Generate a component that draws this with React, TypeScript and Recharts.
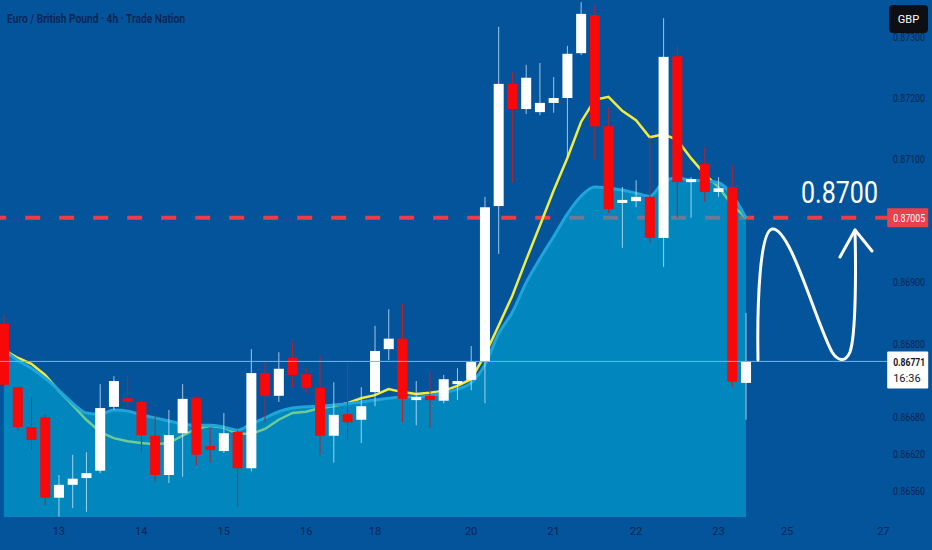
import { ComposedChart, Bar, Line, Area, XAxis, YAxis, ReferenceLine } from 'recharts';

const BG = '#04549c';
const INK = '#0c2450';

// 4h candles, left to right
const opens = [
  0.86832, 0.86729, 0.86664, 0.8668, 0.86549, 0.8657, 0.86581, 0.86593, 0.86697, 0.86711,
  0.86705, 0.8665, 0.86586, 0.86654, 0.86711, 0.86633, 0.86625, 0.86656, 0.86597, 0.86752,
  0.86715, 0.86777, 0.8675, 0.86728, 0.8665, 0.86685, 0.86676, 0.86721, 0.86791, 0.86808,
  0.86708, 0.86715, 0.86707, 0.86734, 0.86741, 0.8677, 0.87024, 0.87223, 0.87182, 0.87177,
  0.87192, 0.872, 0.87273, 0.87335, 0.87154, 0.87029, 0.87032, 0.87039, 0.86972, 0.87268,
  0.87063, 0.87093, 0.87047, 0.87055, 0.86736,
];
const highs = [
  0.86847, 0.86731, 0.86713, 0.86684, 0.86586, 0.86619, 0.86623, 0.86734, 0.86747, 0.86746,
  0.86708, 0.86684, 0.86692, 0.86734, 0.86715, 0.86663, 0.86687, 0.86659, 0.86791, 0.8677,
  0.86786, 0.86803, 0.8676, 0.86781, 0.86737, 0.86768, 0.86729, 0.86829, 0.86856, 0.86865,
  0.86739, 0.86754, 0.86749, 0.8676, 0.86796, 0.87039, 0.87316, 0.87242, 0.87254, 0.87257,
  0.87234, 0.87285, 0.87356, 0.87351, 0.87184, 0.87055, 0.87066, 0.87136, 0.8733, 0.87285,
  0.87071, 0.8712, 0.87071, 0.87091, 0.8685,
];
const lows = [
  0.86728, 0.86658, 0.86627, 0.86537, 0.86518, 0.86532, 0.86526, 0.86589, 0.86692, 0.86697,
  0.86623, 0.86575, 0.86573, 0.86583, 0.86602, 0.86606, 0.86622, 0.86534, 0.86592, 0.86672,
  0.86705, 0.86728, 0.8672, 0.86619, 0.86606, 0.86643, 0.86638, 0.86698, 0.86773, 0.86672,
  0.86667, 0.86663, 0.86703, 0.86708, 0.86724, 0.86703, 0.86946, 0.87062, 0.87174, 0.87172,
  0.87176, 0.87104, 0.8727, 0.87099, 0.87013, 0.86956, 0.87022, 0.86964, 0.86925, 0.87005,
  0.87005, 0.87031, 0.87039, 0.86729, 0.86676,
];
const closes = [
  0.86733, 0.86664, 0.86643, 0.86549, 0.8657, 0.8658, 0.86589, 0.86695, 0.86739, 0.86705,
  0.86651, 0.86586, 0.86651, 0.8671, 0.86619, 0.86627, 0.86654, 0.86597, 0.86752, 0.86715,
  0.86759, 0.86749, 0.86728, 0.8665, 0.86684, 0.86672, 0.86698, 0.86788, 0.86808, 0.8671,
  0.86713, 0.86708, 0.86742, 0.86739, 0.8677, 0.87022, 0.87223, 0.87182, 0.87233, 0.87192,
  0.872, 0.87272, 0.87337, 0.87154, 0.87019, 0.87034, 0.87039, 0.86972, 0.87267, 0.87063,
  0.87068, 0.87047, 0.87053, 0.86738, 0.86771,
];

// yellow fast average
const fastMa = [
  0.8679, 0.86777, 0.86767, 0.86749, 0.86723, 0.867, 0.86676, 0.86656, 0.86646, 0.86641,
  0.86638, 0.86636, 0.86638, 0.8665, 0.86661, 0.86666, 0.86663, 0.86653, 0.86653, 0.86661,
  0.86676, 0.86687, 0.86689, 0.86695, 0.86698, 0.86703, 0.86711, 0.86716, 0.86726, 0.86721,
  0.86718, 0.8672, 0.86723, 0.86731, 0.86742, 0.86781, 0.86829, 0.86878, 0.86936, 0.86992,
  0.87049, 0.87102, 0.87161, 0.87197, 0.87202, 0.87179, 0.87164, 0.87136, 0.87141, 0.87132,
  0.87102, 0.87076, 0.87055, 0.87026, 0.87005,
];
// slow average drawn as the filled cloud
const slowMa = [
  0.8679, 0.86773, 0.8676, 0.86744, 0.86724, 0.86703, 0.86687, 0.86685, 0.86692, 0.8669,
  0.86684, 0.86679, 0.86674, 0.86669, 0.86667, 0.86667, 0.86664, 0.86659, 0.86669, 0.86679,
  0.86689, 0.86695, 0.86697, 0.86698, 0.867, 0.86702, 0.86705, 0.86708, 0.86711, 0.86713,
  0.86713, 0.86715, 0.8672, 0.86726, 0.86736, 0.86765, 0.86816, 0.86851, 0.86899, 0.86938,
  0.86974, 0.87011, 0.8704, 0.87055, 0.87053, 0.8705, 0.87045, 0.8704, 0.87063, 0.8707,
  0.87066, 0.87065, 0.87062, 0.87042, 0.87005,
];

const totalSlots = 65;
const dayTickSlot = [4, 10, 16, 22, 27, 34, 40, 46, 52, 57, 64];
const dayTickText = ['13', '14', '15', '16', '18', '20', '21', '22', '23', '25', '27'];
const priceTicks = [0.873, 0.872, 0.871, 0.869, 0.868, 0.8668, 0.8662, 0.8656];
const priceDomain = [0.865176, 0.873596];
const targetLevel = 0.87005;
const lastPrice = 0.86771;
const lastTime = '16:36';

const rows = Array.from({ length: totalSlots }, (_, i) => ({
  slot: i,
  open: opens[i] ?? null,
  high: highs[i] ?? null,
  low: lows[i] ?? null,
  close: closes[i] ?? null,
  fast: fastMa[i] ?? null,
  slow: slowMa[i] ?? null,
}));

const candleRange = (d: any) => (d.low == null ? null : [d.low, d.high]);

const Candle = (props: any) => {
  const { x, y, width, height, payload } = props;
  if (!payload || payload.open == null) return null;
  const top = Math.min(y, y + height);
  const span = Math.abs(height);
  const toY = (v: number) => top + ((payload.high - v) / (payload.high - payload.low)) * span;
  const up = payload.close >= payload.open;
  const bodyTop = toY(Math.max(payload.open, payload.close));
  const bodyBottom = toY(Math.min(payload.open, payload.close));
  const cx = x + width / 2;
  return (
    <g>
      <line
        x1={cx}
        x2={cx}
        y1={top}
        y2={top + span}
        stroke={up ? 'rgba(215,235,255,0.75)' : '#b8222c'}
        strokeWidth={1}
      />
      <rect
        x={x}
        y={bodyTop}
        width={width}
        height={Math.max(bodyBottom - bodyTop, 2.5)}
        fill={up ? '#ffffff' : '#f80808'}
      />
    </g>
  );
};

const DayTick = (props: any) => {
  const k = dayTickSlot.indexOf(props.payload.value);
  if (k < 0) return null;
  return (
    <text x={props.x} y={535} textAnchor="middle" fill={INK} fontSize={11} fontFamily="Roboto">
      {dayTickText[k]}
    </text>
  );
};

const PriceTick = (props: any) => (
  <text
    x={896}
    y={props.y + 4}
    fill={INK}
    fontSize={10.5}
    fontFamily="Roboto"
    textLength={32}
    lengthAdjust="spacingAndGlyphs"
  >
    {props.payload.value.toFixed(5)}
  </text>
);

const TargetTag = (props: any) => {
  const vb = props.viewBox || {};
  const left = vb.x + vb.width - 3;
  return (
    <g>
      <rect x={left} y={vb.y - 9.5} width={41} height={19} rx={1} fill="#e8414e" />
      <text
        x={left + 6}
        y={vb.y + 4}
        fill="#ffffff"
        fontSize={10.5}
        fontFamily="Roboto"
        textLength={32}
        lengthAdjust="spacingAndGlyphs"
      >
        {targetLevel.toFixed(5)}
      </text>
    </g>
  );
};

const LastTag = (props: any) => {
  const vb = props.viewBox || {};
  const left = vb.x + vb.width - 3;
  return (
    <g>
      <rect x={left} y={vb.y - 10} width={41} height={37} rx={1} fill="#ffffff" />
      <text
        x={left + 6}
        y={vb.y + 5}
        fill="#131722"
        fontSize={10}
        fontWeight={700}
        fontFamily="Roboto"
        textLength={32}
        lengthAdjust="spacingAndGlyphs"
      >
        {lastPrice.toFixed(5)}
      </text>
      <text x={left + 6} y={vb.y + 21} fill="#131722" fontSize={11} fontFamily="Roboto">
        {lastTime}
      </text>
    </g>
  );
};

export default function App() {
  return (
    <div
      style={{
        position: 'fixed',
        left: 0,
        top: 0,
        width: 932,
        height: 550,
        background: BG,
        overflow: 'hidden',
      }}
    >
      <div style={{ position: 'absolute', left: -3, top: 0 }}>
        <ComposedChart
          width={935}
          height={550}
          data={rows}
          margin={{ top: 0, right: 0, bottom: 0, left: 0 }}
        >
          <XAxis
            dataKey="slot"
            type="category"
            height={33}
            interval={0}
            tickLine={false}
            axisLine={false}
            tick={<DayTick />}
          />
          <YAxis
            orientation="right"
            width={41.8}
            domain={priceDomain}
            allowDataOverflow
            ticks={priceTicks}
            tick={<PriceTick />}
            tickLine={false}
            axisLine={false}
          />
          <ReferenceLine
            y={targetLevel}
            stroke="#ec3b4a"
            strokeWidth={4}
            strokeDasharray="15 19"
            zIndex={10}
            label={<TargetTag />}
          />
          <Line
            dataKey="fast"
            type="linear"
            stroke="#f2ec3e"
            strokeWidth={2.5}
            dot={false}
            activeDot={false}
            zIndex={20}
            isAnimationActive={false}
          />
          <Area
            dataKey="slow"
            type="monotone"
            stroke="#1ea6da"
            strokeWidth={3}
            fill="#00b0d8"
            fillOpacity={0.55}
            dot={false}
            activeDot={false}
            zIndex={30}
            isAnimationActive={false}
          />
          <Bar
            dataKey={candleRange}
            barSize={10}
            shape={<Candle />}
            zIndex={40}
            isAnimationActive={false}
          />
          <ReferenceLine
            y={lastPrice}
            stroke="#6fb6f2"
            strokeWidth={1}
            zIndex={50}
            label={<LastTag />}
          />
        </ComposedChart>
      </div>
      <svg
        width={932}
        height={550}
        style={{ position: 'absolute', left: 0, top: 0, pointerEvents: 'none' }}
      >
        <text
          x={7}
          y={23}
          fill={INK}
          fontSize={13}
          fontWeight={600}
          fontFamily="Roboto"
          textLength={178}
          lengthAdjust="spacingAndGlyphs"
        >
          Euro / British Pound · 4h · Trade Nation
        </text>
        <rect x={889} y={5} width={39} height={28} rx={4} fill="#0d0f14" />
        <text x={908.5} y={23} textAnchor="middle" fill="#ffffff" fontSize={11} fontFamily="Roboto">
          GBP
        </text>
        <text
          x={801}
          y={203}
          fill="#ffffff"
          fontSize={31}
          fontFamily="Roboto"
          textLength={77}
          lengthAdjust="spacingAndGlyphs"
        >
          0.8700
        </text>
        <path
          d="M758,360 C757,300 760,232 772,229 C790,226 815,320 832,352 C837,360 845,364 850,352 C856,335 856,270 855,230"
          fill="none"
          stroke="#ffffff"
          strokeWidth={3}
          strokeLinecap="round"
        />
        <path
          d="M840,257 L855,230 L872,251"
          fill="none"
          stroke="#ffffff"
          strokeWidth={3}
          strokeLinecap="round"
          strokeLinejoin="round"
        />
      </svg>
    </div>
  );
}
